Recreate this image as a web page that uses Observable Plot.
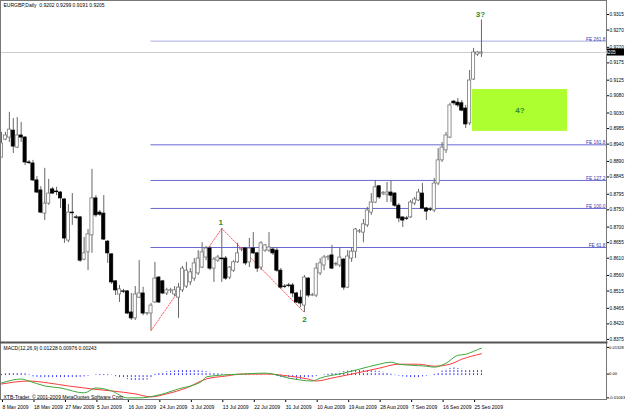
<!DOCTYPE html>
<html><head><meta charset="utf-8">
<script src="https://cdn.jsdelivr.net/npm/d3@7"></script>
<script src="https://cdn.jsdelivr.net/npm/@observablehq/plot@0.6"></script>
<style>
body{margin:0;background:#fff;}
#chart{position:relative;width:625px;height:409px;background:#fff;overflow:hidden;}
#chart svg{display:block;}
</style></head><body><div id="chart"></div>
<script>
// ---------- data ----------
const opens=[0.8901,0.8953,0.8959,0.8979,0.8930,0.8965,0.8959,0.8887,0.8884,0.8835,
0.8806,0.8739,0.8768,0.8809,0.8803,0.8800,0.8780,0.8661,0.8742,0.8728,
0.8728,0.8606,0.8627,0.8676,0.8783,0.8742,0.8739,0.8658,0.8621,0.8543,
0.8505,0.8514,0.8514,0.8453,0.8436,0.8496,0.8508,0.8450,0.8450,0.8482,
0.8554,0.8543,0.8508,0.8516,0.8505,0.8496,0.8517,0.8528,0.8540,0.8551,
0.8566,0.8583,0.8612,0.8638,0.8580,0.8603,0.8609,0.8609,0.8554,0.8574,
0.8598,0.8635,0.8638,0.8598,0.8638,0.8624,0.8583,0.8632,0.8632,0.8635,
0.8632,0.8574,0.8528,0.8531,0.8531,0.8508,0.8496,0.8473,0.8551,0.8502,
0.8502,0.8566,0.8589,0.8612,0.8618,0.8592,0.8589,0.8606,0.8525,0.8609,
0.8629,0.8687,0.8684,0.8705,0.8742,0.8771,0.8818,0.8797,0.8794,0.8800,
0.8797,0.8762,0.8728,0.8725,0.8728,0.8768,0.8777,0.8797,0.8754,0.8751,
0.8748,0.8826,0.8893,0.8922,0.8959,0.9063,0.9060,0.9058,0.9043,0.9000,
0.9127,0.9199,0.9202];
const highs=[0.8974,0.8974,0.9032,0.9014,0.9017,0.9003,0.8962,0.8893,0.8893,0.8846,
0.8817,0.8870,0.8838,0.8815,0.8815,0.8803,0.8782,0.8765,0.8797,0.8734,
0.8731,0.8670,0.8693,0.8867,0.8791,0.8748,0.8791,0.8661,0.8623,0.8545,
0.8531,0.8520,0.8516,0.8508,0.8528,0.8603,0.8526,0.8453,0.8479,0.8598,
0.8557,0.8546,0.8523,0.8523,0.8528,0.8537,0.8586,0.8598,0.8580,0.8609,
0.8632,0.8655,0.8644,0.8644,0.8612,0.8618,0.8696,0.8615,0.8586,0.8603,
0.8653,0.8641,0.8640,0.8667,0.8684,0.8627,0.8658,0.8650,0.8684,0.8641,
0.8638,0.8580,0.8534,0.8537,0.8537,0.8511,0.8517,0.8560,0.8554,0.8508,
0.8595,0.8609,0.8618,0.8618,0.8647,0.8598,0.8641,0.8609,0.8632,0.8641,
0.8696,0.8693,0.8722,0.8757,0.8797,0.8835,0.8820,0.8803,0.8829,0.8835,
0.8800,0.8768,0.8728,0.8731,0.8777,0.8786,0.8809,0.8826,0.8757,0.8757,
0.8841,0.8927,0.8945,0.8974,0.9058,0.9066,0.9072,0.9066,0.9052,0.9153,
0.9217,0.9208,0.9299];
const lows=[0.8901,0.8950,0.8945,0.8913,0.8927,0.8945,0.8878,0.8881,0.8832,0.8797,
0.8739,0.8719,0.8763,0.8795,0.8791,0.8754,0.8653,0.8655,0.8705,0.8722,
0.8598,0.8603,0.8574,0.8624,0.8728,0.8731,0.8661,0.8595,0.8534,0.8502,
0.8482,0.8508,0.8447,0.8430,0.8430,0.8493,0.8444,0.8444,0.8401,0.8479,
0.8479,0.8505,0.8502,0.8508,0.8499,0.8436,0.8511,0.8522,0.8531,0.8543,
0.8560,0.8580,0.8603,0.8574,0.8540,0.8598,0.8540,0.8546,0.8548,0.8569,
0.8595,0.8629,0.8589,0.8583,0.8621,0.8569,0.8574,0.8627,0.8627,0.8618,
0.8569,0.8520,0.8522,0.8525,0.8496,0.8479,0.8467,0.8453,0.8496,0.8499,
0.8496,0.8560,0.8574,0.8603,0.8577,0.8586,0.8583,0.8517,0.8522,0.8598,
0.8609,0.8682,0.8655,0.8699,0.8734,0.8768,0.8780,0.8791,0.8771,0.8771,
0.8757,0.8713,0.8699,0.8719,0.8725,0.8762,0.8774,0.8751,0.8719,0.8745,
0.8742,0.8820,0.8887,0.8913,0.8956,0.9052,0.9046,0.9034,0.8985,0.8994,
0.9124,0.9194,0.9191];
const closes=[0.8942,0.8965,0.8982,0.8933,0.8965,0.8959,0.8887,0.8885,0.8835,0.8800,
0.8742,0.8768,0.8797,0.8797,0.8801,0.8783,0.8667,0.8742,0.8740,0.8727,
0.8603,0.8624,0.8679,0.8783,0.8734,0.8736,0.8664,0.8624,0.8540,0.8517,
0.8520,0.8513,0.8450,0.8436,0.8505,0.8508,0.8450,0.8451,0.8473,0.8551,
0.8482,0.8508,0.8517,0.8517,0.8517,0.8525,0.8580,0.8574,0.8569,0.8595,
0.8609,0.8627,0.8638,0.8580,0.8606,0.8612,0.8607,0.8551,0.8583,0.8598,
0.8624,0.8636,0.8595,0.8638,0.8624,0.8580,0.8653,0.8647,0.8641,0.8624,
0.8574,0.8525,0.8527,0.8530,0.8508,0.8482,0.8479,0.8554,0.8502,0.8503,
0.8580,0.8595,0.8612,0.8613,0.8580,0.8593,0.8612,0.8525,0.8615,0.8629,
0.8693,0.8688,0.8708,0.8748,0.8771,0.8815,0.8786,0.8798,0.8800,0.8791,
0.8762,0.8725,0.8719,0.8724,0.8771,0.8780,0.8800,0.8754,0.8745,0.8750,
0.8826,0.8893,0.8930,0.8965,0.9052,0.9058,0.9052,0.9037,0.8997,0.9124,
0.9205,0.9205,0.9205];

const dateTickIdx=[0,8,16,24,32,40,48,56,64,72,80,88,96,104,112,120];
const dateLabels=["8 May 2009","18 May 2009","27 May 2009","5 Jun 2009","16 Jun 2009","24 Jun 2009","3 Jul 2009","13 Jul 2009","22 Jul 2009","31 Jul 2009","10 Aug 2009","19 Aug 2009","28 Aug 2009","7 Sep 2009","16 Sep 2009","25 Sep 2009"];
const priceTicks=[0.9315,0.9270,0.9220,0.9175,0.9125,0.9080,0.9030,0.8985,0.8940,0.8890,0.8845,0.8795,0.8750,0.8700,0.8655,0.8610,0.8560,0.8515,0.8465,0.8420,0.8375];

const fibLevels=[0.9238,0.8938,0.8835,0.8754,0.8641];
const fibNames=["FE 261.8","FE 161.8","FE 127.2","FE 100.0","FE 61.8"];
const fibStartIdx=38;

const waveIdx=[38,56,77];
const wavePrice=[0.8400,0.8696,0.8453];

// wave labels: "1" above the first peak, "2" below the low, "3?" above the last high
const peakLabels=[{i:56,p:0.8696,t:"1"},{i:122,p:0.9299,t:"3?"}];
const lowLabels=[{i:77,p:0.8453,t:"2"}];

const boxIdx=[119.7,143.9];
const boxPrice=[0.9098,0.8977];
const boxText="4?";

const lastPrice=0.9205;
const titleText="EURGBP,Daily  0.9202 0.9299 0.9191 0.9205";

const macdIdx=[0,5,7,11,15,21,24,28,32,35,39,45,51,52,56,61,67,69,73,76,79,81,87,91,96,99,101,104,108,110,113,116,118,120,122];
const macdVal=[-0.00332,-0.00155,-0.00244,-0.00465,-0.00554,-0.00775,-0.00554,-0.00687,-0.00997,-0.00997,-0.00908,-0.00598,-0.00244,-0.00066,0.00022,0.00066,0.00111,0.00066,-0.00111,-0.00199,-0.00244,-0.00111,0.00111,0.00288,0.00509,0.00598,0.00509,0.00465,0.00421,0.00377,0.00554,0.00908,0.00952,0.01085,0.01228];
const signalIdx=[0,7,12,17,23,28,34,38,42,47,52,57,61,68,73,78,80,84,89,96,101,106,110,114,117,122];
const signalVal=[-0.00377,-0.00244,-0.00332,-0.00465,-0.00598,-0.00687,-0.00820,-0.00952,-0.00820,-0.00554,-0.00155,-0.00022,0.00066,0.00066,-0.00022,-0.00155,-0.00244,-0.00111,0.00066,0.00332,0.00509,0.00509,0.00421,0.00509,0.00731,0.00976];
const histVal=[0.0005,0.0008,
0.0010,0.0012,0.0012,0.0010,0.0008,
0.0003,
-0.0006,-0.0008,-0.0010,-0.0012,-0.0013,-0.0014,-0.0014,-0.0014,-0.0013,-0.0012,-0.0012,-0.0010,-0.0008,-0.0006,
-0.0003,0,
0.0003,0.0005,0.0005,0.0004,0.0002,
-0.0005,-0.0010,-0.0014,-0.0018,-0.0022,-0.0024,-0.0025,-0.0024,-0.0020,
-0.0012,
0.0005,0.0010,0.0014,0.0017,0.0019,0.0021,0.0022,0.0023,0.0024,0.0024,0.0024,0.0022,0.0020,0.0018,0.0015,0.0012,
0.0008,0.0006,0.0005,0.0004,0.0004,0.0003,0.0003,0.0003,0.0003,0.0002,0.0002,0.0002,0.0001,0.0001,0,
-0.0004,-0.0008,-0.0012,-0.0015,-0.0018,-0.0018,-0.0017,-0.0015,-0.0012,-0.0008,
-0.0004,0,0.0003,0.0006,0.0009,
0.0012,0.0015,0.0018,0.0020,0.0022,0.0024,0.0025,0.0025,0.0024,0.0022,0.0020,0.0018,0.0015,0.0010,0.0006,
0.0002,
-0.0003,-0.0006,-0.0008,-0.0010,-0.0010,-0.0009,-0.0006,-0.0003,
0,
0.0005,0.0012,0.0020,0.0028,0.0032,0.0034,0.0032,0.0028,0.0024,0.0024,0.0024,0.0024,0.0024];
const macdTopTick=[0.01328];
const macdLowTicks=[0,-0.01063];
const macdTickText=["0.01328","0.00","-0.01063"];
const macdTitle="MACD(12,26,9) 0.01228 0.00976 0.00243";
const copyright="XTB-Trader, \u00a9 2001-2009 MetaQuotes Software Corp.";

// ---------- build ----------
const bars=opens.map((o,i)=>({i,open:o,high:highs[i],low:lows[i],close:closes[i]}));
const fibs=fibLevels.map((v,k)=>({v,name:fibNames[k]}));
const wave=waveIdx.map((i,k)=>({i,p:wavePrice[k]}));
const box={x1:boxIdx[0],x2:boxIdx[1],y1:boxPrice[0],y2:boxPrice[1]};
const macd=macdIdx.map((i,k)=>({i,v:macdVal[k]}));
const sig=signalIdx.map((i,k)=>({i,v:signalVal[k]}));
const hist=histVal.map((v,i)=>({i,v}));

const W=625, MR=19;
const xDomain=[-0.254,153.79];
const font="Liberation Sans, Arial, sans-serif";
const style={fontSize:"5px",fontFamily:font,background:"transparent",color:"#000",overflow:"visible"};
const green="#2e8b2e";

const main=Plot.plot({
  width:W,height:342,marginLeft:0,marginRight:MR,marginTop:0,marginBottom:0,
  style,
  x:{domain:xDomain,axis:null,label:null},
  y:{domain:[0.83662,0.93555],label:null},
  marks:[
    Plot.ruleY([lastPrice],{stroke:"#cccccc"}),
    Plot.rect([box],{x1:"x1",x2:"x2",y1:"y1",y2:"y2",fill:"#adff2f"}),
    Plot.ruleY(fibs,{y:"v",x1:fibStartIdx,x2:xDomain[1],stroke:d=>d.name==="FE 261.8"?"#a9acde":"#6868d0"}),
    Plot.text(fibs,{y:"v",text:"name",frameAnchor:"right",textAnchor:"end",lineAnchor:"bottom",dx:-1,dy:-0.5,fill:"#3a3aa8",fontSize:4.8}),
    Plot.line(wave,{x:"i",y:"p",stroke:"#ff5a5a",strokeWidth:1,strokeDasharray:"1.5,1.5"}),
    Plot.ruleX(bars,{x:"i",y1:"low",y2:"high",stroke:"#666666"}),
    Plot.rect(bars,{x1:d=>d.i-0.4,x2:d=>d.i+0.4,y1:"open",y2:"close",
      fill:d=>d.close>=d.open?"#ffffff":"#000000",
      stroke:d=>d.close>=d.open?"#777777":"#000000",strokeWidth:0.8}),
    Plot.text(peakLabels,{x:"i",y:"p",text:"t",fill:green,fontWeight:"bold",fontSize:8,lineAnchor:"bottom",dy:-3,dx:-1}),
    Plot.text(lowLabels,{x:"i",y:"p",text:"t",fill:green,fontWeight:"bold",fontSize:8,lineAnchor:"top",dy:4}),
    Plot.text([box],{x:d=>(d.x1+d.x2)/2,y:d=>(d.y1+d.y2)/2,text:()=>boxText,fill:green,fontWeight:"bold",fontSize:8}),
    Plot.text([titleText],{frameAnchor:"top-left",dx:3,dy:3,fontSize:5,fill:"#000"}),
    Plot.axisY({anchor:"right",ticks:priceTicks,tickFormat:d=>d.toFixed(4),tickSize:2,tickPadding:1,fontSize:4.7,label:null}),
    Plot.frame({stroke:"#777777"})
  ]
});
const chart=document.getElementById("chart");
chart.append(main);
// current price marker on the price axis
{
  const yc=main.scale("y").apply(lastPrice);
  const g=d3.select(main).append("g");
  g.append("rect").attr("x",W-MR+1).attr("y",yc-3.5).attr("width",17).attr("height",7).attr("fill","#000");
  g.append("text").attr("x",W-MR+2.5).attr("y",yc+1.8).attr("fill","#ffffff").attr("font-size",4.7)
   .attr("font-family",font).text(lastPrice.toFixed(4));
}

const labelMap=new Map(dateTickIdx.map((d,k)=>[d,dateLabels[k]]));
const macdMap=new Map([...macdTopTick,...macdLowTicks].map((d,k)=>[d,macdTickText[k]]));
const sub=Plot.plot({
  width:W,height:67,marginLeft:0,marginRight:MR,marginTop:0,marginBottom:10,
  style,
  x:{domain:xDomain,label:null},
  y:{domain:[-0.01070,0.01480],label:null},
  marks:[
    Plot.ruleX(hist,{x:"i",y1:0,y2:"v",stroke:"#3c3cff",strokeDasharray:"2,1"}),
    Plot.line(sig,{x:"i",y:"v",stroke:"#ff3b3b",strokeWidth:1,curve:"monotone-x"}),
    Plot.line(macd,{x:"i",y:"v",stroke:"#3caa3c",strokeWidth:1,curve:"monotone-x"}),
    Plot.text([macdTitle],{frameAnchor:"top-left",dx:3,dy:4,fontSize:5,fill:"#000"}),
    Plot.text([copyright],{frameAnchor:"bottom-left",dx:3,dy:-1,fontSize:5,fill:"#000"}),
    Plot.axisY({anchor:"right",ticks:macdTopTick,tickFormat:d=>macdMap.get(d),tickSize:2,tickPadding:0.5,fontSize:4.1,dy:1.5,label:null}),
    Plot.axisY({anchor:"right",ticks:macdLowTicks,tickFormat:d=>macdMap.get(d),tickSize:2,tickPadding:0.5,fontSize:4.1,dy:-1.5,label:null}),
    Plot.axisX({ticks:dateTickIdx,tickFormat:d=>labelMap.get(d),textAnchor:"start",tickSize:3,tickPadding:3,dx:1,fontSize:5,label:null}),
    Plot.frame({stroke:"#777777"}),
    Plot.frame({anchor:"top",stroke:"#555555",strokeWidth:2})
  ]
});
chart.append(sub);
</script></body></html>
